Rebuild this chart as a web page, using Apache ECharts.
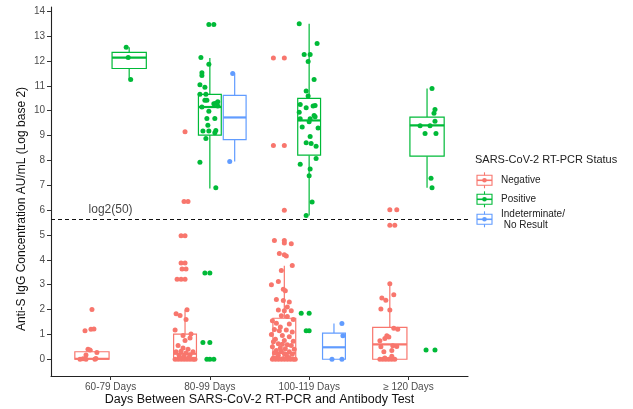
<!DOCTYPE html>
<html><head><meta charset="utf-8">
<script src="https://cdn.jsdelivr.net/npm/echarts@6/dist/echarts.min.js"></script>
<style>html,body{margin:0;padding:0;background:#fff}#c{width:633px;height:409px}</style>
</head><body><div id="c"></div>
<script>
// ---------- data ----------
const categories = ['60-79 Days', '80-99 Days', '100-119 Days', '≥ 120 Days'];
const groups = ['Negative', 'Positive', 'Indeterminate/\n No Result'];
const groupColors = ['#F8766D', '#00BA38', '#619CFF'];
const groupsPerCategory = [[0, 1], [0, 1, 2], [0, 1, 2], [0, 1]];
const yTicks = [0,1,2,3,4,5,6,7,8,9,10,11,12,13,14];
const threshold = Math.log2(50);
const thresholdLabel = 'log2(50)';
const thresholdLabelPos = [1, 6];

// box stats [lowWhisker, q1, median, q3, highWhisker] per category (null = none)
const negativeBoxes = [[0, 0, 0.02, 0.3, 0.4], [0, 0, 0.22, 1.01, 1.99], [0, 0, 0.25, 1.65, 3.76], [0, 0, 0.6, 1.28, 3.02]];
const positiveBoxes = [[11.26, 11.7, 12.14, 12.35, 12.56], [6.87, 9.02, 10.15, 10.66, 12.12], [5.78, 8.21, 9.61, 10.5, 13.5], [6.9, 8.17, 9.41, 9.74, 10.9]];
const indeterminateBoxes = [null, [7.96, 8.84, 9.73, 10.62, 11.5], [0, 0, 0.48, 1.05, 1.44], null];

// jittered points [jitter offset, value] per category
const negativePoints = [
  [[0,2.0],[-0.07,1.15],[-0.01,1.21],[0.02,1.22],[-0.04,0.4],[-0.02,0.37],[0.05,0.27],[-0.12,0],[-0.09,0.02],[-0.06,0],[0.03,0],[0.04,0.03],[-0.06,0.17]],
  [[-0.01,6.35],[0.03,6.35],[0.0,9.15],[-0.04,4.97],[0.0,4.97],[-0.04,3.87],[0.0,3.87],[-0.03,3.63],[0.01,3.63],[-0.08,3.22],[-0.04,3.22],[0.0,3.22],[-0.09,1.83],[-0.05,1.76],[0.02,1.99],[0.01,1.6],[-0.1,1.18],[0.05,0.85],[0.0,0.75],[-0.07,0.55],[-0.02,0.45],[0.03,0.4],[-0.09,0.3],[-0.04,0.32],[0.01,0.25],[0.08,0.3],[-0.06,0.15],[-0.01,0.12],[0.05,0.18],[-0.1,0],[-0.07,0],[-0.04,0],[-0.01,0],[0.02,0],[0.05,0],[0.08,0],[0.1,0],[-0.05,0.05],[0.04,0.08],[0.06,1.02],[-0.02,0.95]],
  [[-0.11,12.12],[0.0,12.12],[-0.11,8.6],[0.0,8.6],[0.0,6.0],[-0.1,4.78],[0.0,4.78],[0.0,4.68],[0.07,4.65],[-0.05,4.25],[0.0,4.2],[0.02,4.15],[0.08,3.77],[-0.03,3.57],[-0.13,3.0],[-0.06,3.13],[-0.01,2.82],[0.01,2.76],[-0.08,2.4],[-0.01,2.36],[0.05,2.3],[0.03,2.1],[-0.06,1.98],[0.0,1.95],[0.07,1.95],[-0.03,1.75],[0.03,1.72],[-0.12,1.55],[-0.08,1.45],[0.05,1.42],[-0.1,1.2],[-0.05,1.15],[0.02,1.18],[0.08,1.1],[-0.13,1.0],[-0.02,0.95],[0.05,0.9],[-0.09,0.8],[0.0,0.75],[0.09,0.72],[-0.06,0.62],[-0.02,0.6],[0.03,0.58],[0.07,0.55],[-0.12,0.5],[-0.04,0.45],[0.01,0.42],[0.1,0.4],[-0.08,0.35],[-0.03,0.32],[0.05,0.3],[-0.1,0.25],[0.0,0.22],[0.08,0.2],[-0.06,0.15],[0.03,0.12],[-0.11,0.05],[-0.07,0.08],[-0.12,0],[-0.09,0],[-0.06,0],[-0.03,0],[0.0,0],[0.03,0],[0.06,0],[0.09,0],[0.11,0],[-0.01,0.03],[0.05,0.05],[-0.04,1.3],[0.09,1.6],[-0.11,0.7]],
  [[0.0,6.02],[0.07,6.02],[0.0,5.39],[0.05,5.39],[0.0,3.04],[-0.08,2.46],[-0.04,2.37],[0.04,2.59],[-0.09,2.02],[0.0,1.98],[0.04,1.25],[0.08,1.21],[-0.03,0.94],[-0.01,0.89],[-0.05,0.83],[-0.1,0.74],[0.03,0.54],[0.07,0.51],[-0.09,0.5],[-0.06,0.3],[0.02,0.35],[-0.1,0],[-0.07,0],[-0.04,0],[-0.01,0],[0.02,0],[0.05,0],[0.02,0.12],[-0.05,0.05]]
];
const positivePoints = [
  [[-0.03,12.56],[-0.01,12.14],[0.015,11.26]],
  [[-0.01,13.47],[0.04,13.47],[-0.09,12.14],[-0.01,11.87],[-0.08,11.53],[-0.08,11.42],[-0.1,11.05],[-0.05,10.95],[-0.1,10.66],[-0.04,10.66],[-0.05,10.42],[-0.03,10.42],[0.08,10.36],[0.04,10.28],[0.08,10.19],[0.06,10.3],[-0.08,10.15],[-0.01,9.98],[-0.03,9.69],[0.05,9.69],[-0.02,9.42],[-0.07,9.18],[-0.01,9.18],[0.05,9.11],[0.06,9.2],[-0.04,8.88],[-0.1,7.93],[0.06,6.9],[-0.05,3.47],[0.0,3.47],[-0.07,0.67],[0.0,0.67],[-0.03,0],[0.0,0],[0.04,0]],
  [[-0.1,13.5],[0.08,12.71],[-0.05,12.26],[0.01,12.26],[-0.01,11.98],[0.05,11.26],[-0.03,10.79],[-0.01,10.59],[-0.09,10.25],[0.06,10.21],[-0.03,10.12],[0.04,10.19],[-0.1,9.94],[0.05,9.81],[-0.09,9.68],[0.01,9.68],[0.06,9.76],[0.0,9.56],[-0.07,9.35],[0.09,9.31],[0.01,8.96],[-0.03,8.71],[0.02,8.68],[0.07,8.57],[0.07,8.08],[-0.09,7.85],[0.01,7.66],[0.0,7.38],[0.03,6.33],[-0.03,5.78],[-0.08,1.85],[0.0,1.85],[-0.03,1.15],[0.0,1.15]],
  [[0.05,10.9],[0.08,10.05],[0.07,9.9],[0.08,9.58],[-0.07,9.4],[0.03,9.4],[-0.02,9.08],[0.09,9.08],[0.04,7.28],[0.05,6.9],[-0.01,0.37],[0.08,0.37]]
];
const indeterminatePoints = [
  [],
  [[-0.02,11.5],[-0.05,7.96]],
  [[0.08,1.44],[0.09,0.94],[-0.02,0],[0.08,0]],
  []
];

// ---------- layout helpers ----------
const dodgeWidth = 0.75, boxFill = 0.92;
function dodgeX(cat, g) {
  const list = groupsPerCategory[cat];
  const n = list.length, i = list.indexOf(g), w = dodgeWidth / n;
  return cat + 1 - dodgeWidth / 2 + w * (i + 0.5);
}
function boxWidth(cat) { return dodgeWidth / groupsPerCategory[cat].length * boxFill; }

const allBoxes = [negativeBoxes, positiveBoxes, indeterminateBoxes];
const allPoints = [negativePoints, positivePoints, indeterminatePoints];

function renderBox(params, api) {
  const x = api.value(0), w = api.value(6);
  const xc = api.coord([x, 0])[0];
  const half = api.size([w, 0])[0] / 2;
  const yv = i => api.coord([x, api.value(i)])[1];
  const yLow = yv(1), yQ1 = yv(2), yMed = yv(3), yQ3 = yv(4), yHigh = yv(5);
  const color = api.visual('color');
  const lw = 1.2;
  return { type: 'group', children: [
    { type: 'line', shape: { x1: xc, y1: yLow, x2: xc, y2: yQ1 }, style: { stroke: color, lineWidth: lw } },
    { type: 'line', shape: { x1: xc, y1: yQ3, x2: xc, y2: yHigh }, style: { stroke: color, lineWidth: lw } },
    { type: 'rect', shape: { x: xc - half, y: yQ3, width: 2 * half, height: yQ1 - yQ3 }, style: { fill: '#fff', stroke: color, lineWidth: lw } },
    { type: 'line', shape: { x1: xc - half, y1: yMed, x2: xc + half, y2: yMed }, style: { stroke: color, lineWidth: 2.2 } }
  ]};
}

const series = [];
groups.forEach((g, gi) => {
  const data = [];
  allBoxes[gi].forEach((b, ci) => { if (b) data.push([dodgeX(ci, gi), ...b, boxWidth(ci)]); });
  series.push({ type: 'custom', name: g, renderItem: renderBox, data: data,
    itemStyle: { color: groupColors[gi] }, encode: { x: 0, y: [1, 2, 3, 4, 5] }, z: 2 });
});
groups.forEach((g, gi) => {
  const data = [];
  allPoints[gi].forEach((pts, ci) => pts.forEach(p => data.push([dodgeX(ci, gi) + p[0], p[1]])));
  series.push({ type: 'scatter', name: g + ' pts', data: data, symbolSize: 5,
    itemStyle: { color: groupColors[gi], opacity: 1 }, z: 3 });
});
series.push({ type: 'scatter', data: [thresholdLabelPos], symbolSize: 0, z: 4,
  label: { show: true, position: 'inside', formatter: thresholdLabel, color: '#111', fontSize: 12, fontFamily: 'Liberation Sans' },
  markLine: { silent: true, symbol: 'none', label: { show: false },
    lineStyle: { color: '#111', type: [4, 3], width: 1.1 }, data: [{ yAxis: threshold }] } });

// legend built as graphics
const legendGraphics = [
  { type: 'text', left: 475, top: 154, style: { text: 'SARS-CoV-2 RT-PCR Status', font: '11px "Liberation Sans"', fill: '#222' } }
];
const legendY = [180.3, 199.3, 219.3];
groups.forEach((g, gi) => {
  const cy = legendY[gi], cx = 484.5, col = groupColors[gi];
  legendGraphics.push(
    { type: 'line', shape: { x1: cx, y1: cy - 8, x2: cx, y2: cy + 8 }, style: { stroke: col, lineWidth: 1.1 } },
    { type: 'rect', shape: { x: cx - 7.5, y: cy - 5, width: 15, height: 10 }, style: { fill: '#fff', stroke: col, lineWidth: 1.1 } },
    { type: 'line', shape: { x1: cx - 7.5, y1: cy, x2: cx + 7.5, y2: cy }, style: { stroke: col, lineWidth: 1.6 } },
    { type: 'circle', shape: { cx: cx, cy: cy, r: 2.3 }, style: { fill: col } },
    { type: 'text', x: 501, y: cy, style: { text: g, font: '10px "Liberation Sans"', fill: '#222', verticalAlign: 'middle', lineHeight: 11 } }
  );
});
legendGraphics.push({ type: 'text', x: 22, y: 209, rotation: Math.PI / 2,
  style: { text: 'Anti-S IgG Concentration AU/mL (Log base 2)', font: '12px "Liberation Sans"', fill: '#111', align: 'center', verticalAlign: 'middle' } });

const chart = echarts.init(document.getElementById('c'));
chart.setOption({
  animation: false,
  backgroundColor: '#fff',
  textStyle: { fontFamily: 'Liberation Sans' },
  grid: { left: 51, right: 165, top: 7, bottom: 33, containLabel: false, outerBoundsMode: 'none' },
  xAxis: {
    type: 'value', min: 0.4, max: 4.6,
    name: 'Days Between SARS-CoV-2 RT-PCR and Antibody Test', nameLocation: 'middle', nameGap: 17, nameMoveOverlap: false,
    nameTextStyle: { fontSize: 12.5, color: '#111', fontFamily: 'Liberation Sans' },
    axisLine: { onZero: false, lineStyle: { color: '#222', width: 1.1 } },
    axisTick: { customValues: [1, 2, 3, 4], length: 4, lineStyle: { color: '#333' } },
    axisLabel: { customValues: [1, 2, 3, 4], formatter: v => categories[Math.round(v) - 1], fontSize: 10, color: '#4D4D4D', margin: 6 },
    splitLine: { show: false }
  },
  yAxis: {
    type: 'value', min: -0.675, max: 14.175,
    axisLine: { show: true, onZero: false, lineStyle: { color: '#222', width: 1.1 } },
    axisTick: { show: true, customValues: yTicks, length: 4, lineStyle: { color: '#333' } },
    axisLabel: { customValues: yTicks, fontSize: 10, color: '#4D4D4D', margin: 6 },
    splitLine: { show: false }
  },
  graphic: legendGraphics,
  series: series
});
</script></body></html>
